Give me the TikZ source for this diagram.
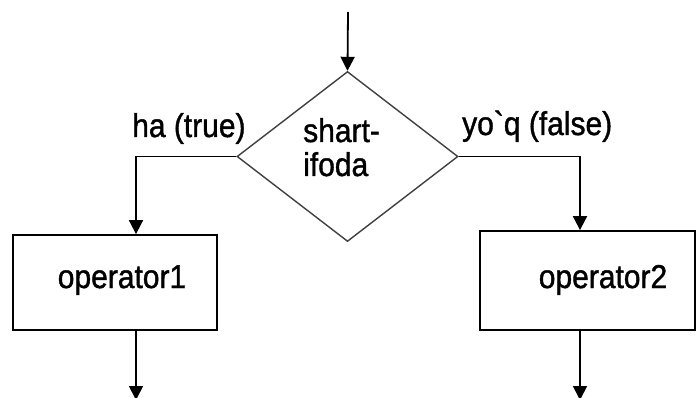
\documentclass[tikz,border=0pt]{standalone}
\usepackage{fontspec}
\setmainfont{Liberation Sans}
\newfontfamily\heavyfont{Liberation Sans}[FakeBold=1.3]
\usetikzlibrary{shapes.geometric,arrows.meta}
\begin{document}
\begin{tikzpicture}[x=1pt,y=-1pt,
  conn/.style={line width=1.8pt,black},
  arr/.style={conn,-{Triangle[width=14pt,length=14pt]}},
  boxnode/.style={draw,line width=1.8pt,inner sep=0pt,minimum width=#1},
  lbl/.style={inner sep=0pt,anchor=base west,font=\heavyfont\fontsize{30}{34}\selectfont},
  optxt/.style={inner sep=0pt,anchor=base,font=\heavyfont\fontsize{30}{34}\selectfont}]
\useasboundingbox (0,0) rectangle (696,398);
\fill[white] (0,0) rectangle (696,398);
\coordinate (top) at (348,12);
\node[diamond,draw=black!75,line width=1.4pt,inner sep=0pt,minimum width=221pt,minimum height=170pt] (dia) at (347.5,156.5) {};
\node[boxnode=204pt,minimum height=95pt] (box1) at (115,282.5) {};
\node[boxnode=215pt,minimum height=99pt] (box2) at (587.5,280.5) {};
\node[lbl] (c1) at (303,142) {\scalebox{1}[1.1]{shart-}};
\node[lbl] (c2) at (303,176) {\scalebox{1}[1.1]{ifoda}};
\node[lbl] (yes) at (132,137) {\scalebox{1}[1.1]{ha (true)}};
\node[lbl] (no) at (462,135) {\scalebox{1}[1.1]{yo\textasciigrave q (false)}};
\node[optxt] (t1) at (122,288) {\scalebox{1}[1.1]{operator1}};
\node[optxt] (t2) at (603,288) {\scalebox{1}[1.1]{operator2}};
\coordinate (out1) at (136,400);
\coordinate (out2) at (580,400);
\draw[arr] (top) -- (dia.north);
\draw[arr] (dia.west) -| ([xshift=21pt]box1.north);
\draw[arr] (dia.east) -| ([xshift=-7.5pt]box2.north);
\draw[arr] ([xshift=21pt]box1.south) -- (out1);
\draw[arr] ([xshift=-7.5pt]box2.south) -- (out2);
\end{tikzpicture}
\end{document}
